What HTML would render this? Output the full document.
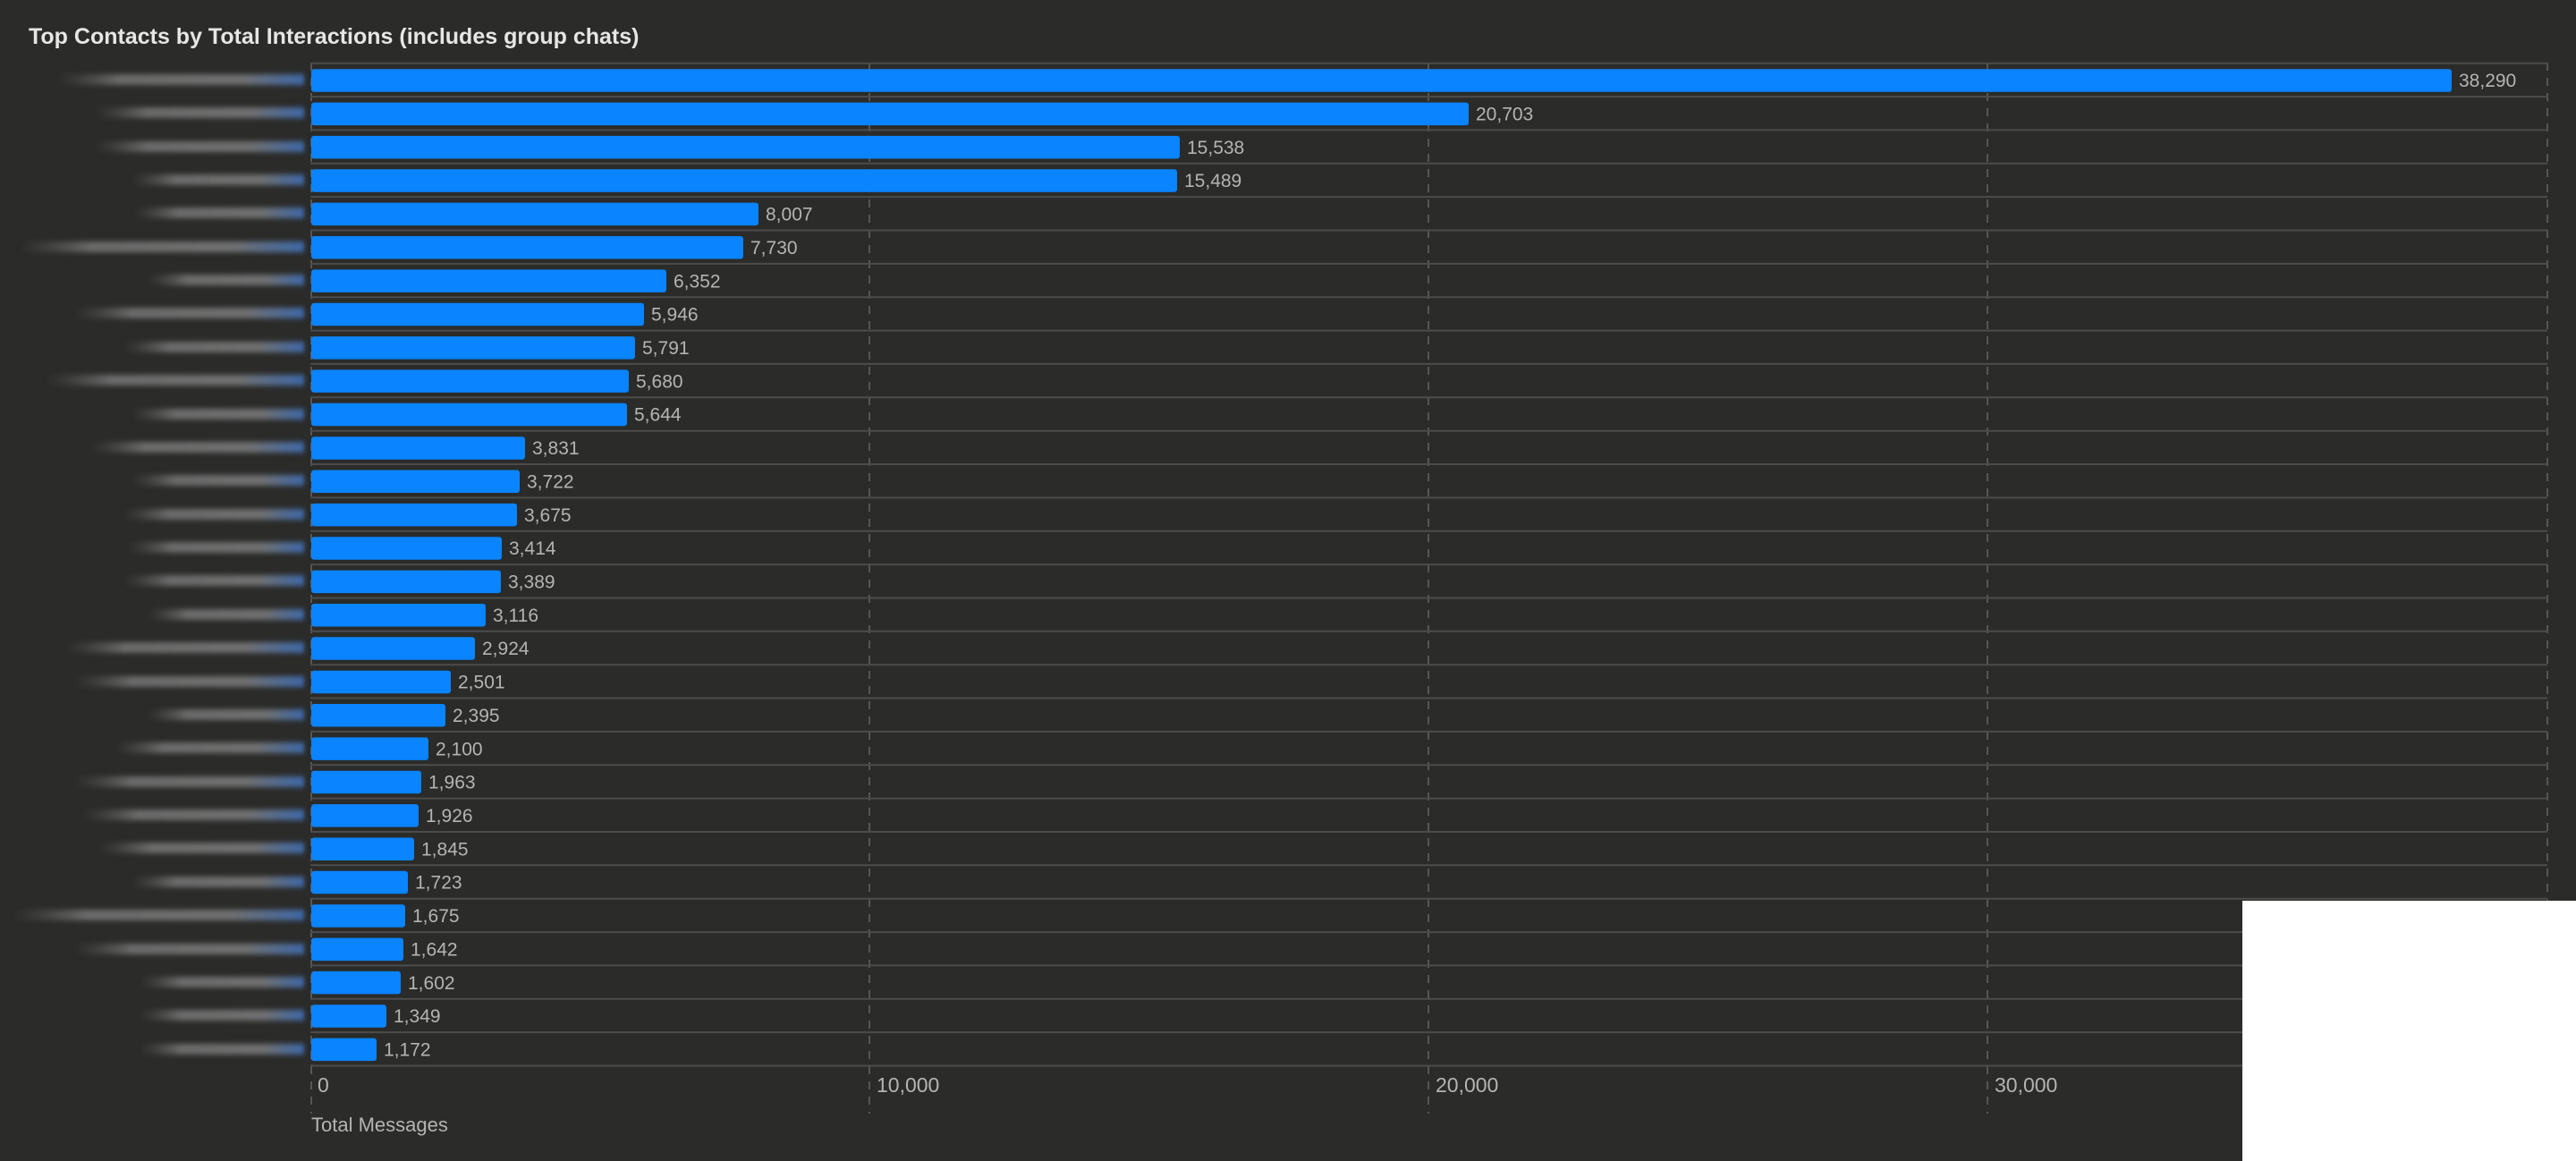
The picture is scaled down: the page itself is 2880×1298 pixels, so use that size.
<!DOCTYPE html>
<html><head><meta charset="utf-8"><style>
html,body{margin:0;padding:0;background:#2b2b29;}
svg{display:block;}
text{font-family:"Liberation Sans",sans-serif;}
</style></head><body>
<svg width="2880" height="1298" viewBox="0 0 2880 1298" xmlns="http://www.w3.org/2000/svg">
<defs>
<linearGradient id="g" x1="0" x2="1" y1="0" y2="0">
<stop offset="0" stop-color="#555" stop-opacity="0"/>
<stop offset="0.25" stop-color="#6a6a6a"/>
<stop offset="0.75" stop-color="#707070"/>
<stop offset="1" stop-color="#3d68a8"/>
</linearGradient>
<filter id="b" x="-10%" y="-100%" width="120%" height="300%"><feGaussianBlur stdDeviation="2.5 3"/></filter>
</defs>
<rect width="2880" height="1298" fill="#2b2b29"/>
<text x="32" y="49" font-size="25" font-weight="bold" fill="#e6e6e6">Top Contacts by Total Interactions (includes group chats)</text>
<g stroke="#565656" stroke-width="2" stroke-dasharray="9,8">
<line x1="348" y1="70" x2="348" y2="1245"/>
<line x1="972" y1="70" x2="972" y2="1245"/>
<line x1="1597" y1="70" x2="1597" y2="1245"/>
<line x1="2222" y1="70" x2="2222" y2="1245"/>
<line x1="2848" y1="70" x2="2848" y2="1245"/>
</g>
<g stroke="#4c4c4c" stroke-width="2">
<line x1="347" y1="70.7" x2="2848" y2="70.7"/><line x1="347" y1="108.1" x2="2848" y2="108.1"/><line x1="347" y1="145.4" x2="2848" y2="145.4"/><line x1="347" y1="182.8" x2="2848" y2="182.8"/><line x1="347" y1="220.1" x2="2848" y2="220.1"/><line x1="347" y1="257.5" x2="2848" y2="257.5"/><line x1="347" y1="294.9" x2="2848" y2="294.9"/><line x1="347" y1="332.2" x2="2848" y2="332.2"/><line x1="347" y1="369.6" x2="2848" y2="369.6"/><line x1="347" y1="406.9" x2="2848" y2="406.9"/><line x1="347" y1="444.3" x2="2848" y2="444.3"/><line x1="347" y1="481.7" x2="2848" y2="481.7"/><line x1="347" y1="519" x2="2848" y2="519"/><line x1="347" y1="556.4" x2="2848" y2="556.4"/><line x1="347" y1="593.7" x2="2848" y2="593.7"/><line x1="347" y1="631.1" x2="2848" y2="631.1"/><line x1="347" y1="668.5" x2="2848" y2="668.5"/><line x1="347" y1="705.8" x2="2848" y2="705.8"/><line x1="347" y1="743.2" x2="2848" y2="743.2"/><line x1="347" y1="780.5" x2="2848" y2="780.5"/><line x1="347" y1="817.9" x2="2848" y2="817.9"/><line x1="347" y1="855.3" x2="2848" y2="855.3"/><line x1="347" y1="892.6" x2="2848" y2="892.6"/><line x1="347" y1="930" x2="2848" y2="930"/><line x1="347" y1="967.3" x2="2848" y2="967.3"/><line x1="347" y1="1004.7" x2="2848" y2="1004.7"/><line x1="347" y1="1042.1" x2="2848" y2="1042.1"/><line x1="347" y1="1079.4" x2="2848" y2="1079.4"/><line x1="347" y1="1116.8" x2="2848" y2="1116.8"/><line x1="347" y1="1154.1" x2="2848" y2="1154.1"/><line x1="347" y1="1191.5" x2="2848" y2="1191.5"/>
</g>
<g filter="url(#b)" fill="url(#g)">
<rect x="64" y="83" width="276" height="12"/>
<rect x="106" y="120" width="234" height="12"/>
<rect x="106" y="158" width="234" height="12"/>
<rect x="147" y="195" width="193" height="12"/>
<rect x="150" y="232" width="190" height="12"/>
<rect x="22" y="270" width="318" height="12"/>
<rect x="165" y="307" width="175" height="12"/>
<rect x="83" y="344" width="257" height="12"/>
<rect x="138" y="382" width="202" height="12"/>
<rect x="51" y="419" width="289" height="12"/>
<rect x="147" y="457" width="193" height="12"/>
<rect x="101" y="494" width="239" height="12"/>
<rect x="147" y="531" width="193" height="12"/>
<rect x="138" y="569" width="202" height="12"/>
<rect x="143" y="606" width="197" height="12"/>
<rect x="138" y="643" width="202" height="12"/>
<rect x="165" y="681" width="175" height="12"/>
<rect x="73" y="718" width="267" height="12"/>
<rect x="83" y="756" width="257" height="12"/>
<rect x="165" y="793" width="175" height="12"/>
<rect x="129" y="830" width="211" height="12"/>
<rect x="83" y="868" width="257" height="12"/>
<rect x="92" y="905" width="248" height="12"/>
<rect x="110" y="942" width="230" height="12"/>
<rect x="147" y="980" width="193" height="12"/>
<rect x="14" y="1017" width="326" height="12"/>
<rect x="83" y="1055" width="257" height="12"/>
<rect x="156" y="1092" width="184" height="12"/>
<rect x="156" y="1129" width="184" height="12"/>
<rect x="156" y="1167" width="184" height="12"/>
</g>
<g fill="#0a84ff">
<rect x="348" y="77.2" width="2393" height="25.5" rx="3"/>
<rect x="348" y="114.6" width="1294" height="25.5" rx="3"/>
<rect x="348" y="151.9" width="971" height="25.5" rx="3"/>
<rect x="348" y="189.3" width="968" height="25.5" rx="3"/>
<rect x="348" y="226.6" width="500" height="25.5" rx="3"/>
<rect x="348" y="264" width="483" height="25.5" rx="3"/>
<rect x="348" y="301.4" width="397" height="25.5" rx="3"/>
<rect x="348" y="338.7" width="372" height="25.5" rx="3"/>
<rect x="348" y="376.1" width="362" height="25.5" rx="3"/>
<rect x="348" y="413.4" width="355" height="25.5" rx="3"/>
<rect x="348" y="450.8" width="353" height="25.5" rx="3"/>
<rect x="348" y="488.2" width="239" height="25.5" rx="3"/>
<rect x="348" y="525.5" width="233" height="25.5" rx="3"/>
<rect x="348" y="562.9" width="230" height="25.5" rx="3"/>
<rect x="348" y="600.2" width="213" height="25.5" rx="3"/>
<rect x="348" y="637.6" width="212" height="25.5" rx="3"/>
<rect x="348" y="675" width="195" height="25.5" rx="3"/>
<rect x="348" y="712.3" width="183" height="25.5" rx="3"/>
<rect x="348" y="749.7" width="156" height="25.5" rx="3"/>
<rect x="348" y="787" width="150" height="25.5" rx="3"/>
<rect x="348" y="824.4" width="131" height="25.5" rx="3"/>
<rect x="348" y="861.8" width="123" height="25.5" rx="3"/>
<rect x="348" y="899.1" width="120" height="25.5" rx="3"/>
<rect x="348" y="936.5" width="115" height="25.5" rx="3"/>
<rect x="348" y="973.8" width="108" height="25.5" rx="3"/>
<rect x="348" y="1011.2" width="105" height="25.5" rx="3"/>
<rect x="348" y="1048.6" width="103" height="25.5" rx="3"/>
<rect x="348" y="1085.9" width="100" height="25.5" rx="3"/>
<rect x="348" y="1123.3" width="84" height="25.5" rx="3"/>
<rect x="348" y="1160.6" width="73" height="25.5" rx="3"/>
</g>
<g fill="#b4b4b4" font-size="21">
<text x="2749" y="97">38,290</text>
<text x="1650" y="134.5">20,703</text>
<text x="1327" y="171.8">15,538</text>
<text x="1324" y="209.2">15,489</text>
<text x="856" y="246.5">8,007</text>
<text x="839" y="283.9">7,730</text>
<text x="753" y="321.3">6,352</text>
<text x="728" y="358.6">5,946</text>
<text x="718" y="396">5,791</text>
<text x="711" y="433.3">5,680</text>
<text x="709" y="470.7">5,644</text>
<text x="595" y="508.1">3,831</text>
<text x="589" y="545.4">3,722</text>
<text x="586" y="582.8">3,675</text>
<text x="569" y="620.1">3,414</text>
<text x="568" y="657.5">3,389</text>
<text x="551" y="694.9">3,116</text>
<text x="539" y="732.2">2,924</text>
<text x="512" y="769.6">2,501</text>
<text x="506" y="806.9">2,395</text>
<text x="487" y="844.3">2,100</text>
<text x="479" y="881.7">1,963</text>
<text x="476" y="919">1,926</text>
<text x="471" y="956.4">1,845</text>
<text x="464" y="993.7">1,723</text>
<text x="461" y="1031.1">1,675</text>
<text x="459" y="1068.5">1,642</text>
<text x="456" y="1105.8">1,602</text>
<text x="440" y="1143.2">1,349</text>
<text x="429" y="1180.5">1,172</text>
</g>
<g fill="#b4b4b4" font-size="23">
<text x="355" y="1221">0</text>
<text x="980" y="1221">10,000</text>
<text x="1605" y="1221">20,000</text>
<text x="2230" y="1221">30,000</text>
<text x="348" y="1265" font-size="22">Total Messages</text>
</g>
<rect x="2507" y="1007" width="373" height="291" fill="#ffffff"/>
</svg>
</body></html>
